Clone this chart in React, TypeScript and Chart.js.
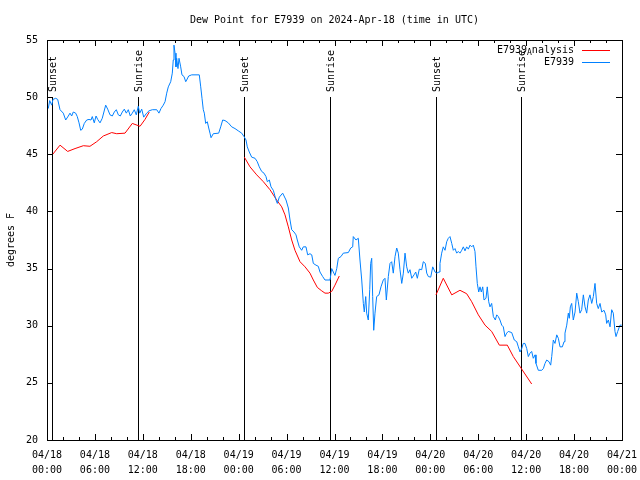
import React, { useEffect, useRef } from "react";
import { Chart, registerables } from "chart.js";

Chart.register(...registerables);

const TITLE = "Dew Point for E7939 on 2024-Apr-18 (time in UTC)";
const Y_LABEL = "degrees F";
const LEGEND_LABELS = ["E7939_Analysis", "E7939"];
const SERIES_COLORS = ["#ff0000", "#0080ff"];

const X_TICK_DATES = ["04/18", "04/18", "04/18", "04/18", "04/19", "04/19", "04/19", "04/19", "04/20", "04/20", "04/20", "04/20", "04/21"];
const X_TICK_TIMES = ["00:00", "06:00", "12:00", "18:00", "00:00", "06:00", "12:00", "18:00", "00:00", "06:00", "12:00", "18:00", "00:00"];

const EVENT_HOURS = [0.66, 11.4, 24.67, 35.4, 48.7, 59.35];
const EVENT_LABELS = ["Sunset", "Sunrise", "Sunset", "Sunrise", "Sunset", "Sunrise"];
const EVENT_LINE_TOP = 50;

const OBS_HOURS = [
  0.16, 0.34, 0.59, 0.75, 1.09, 1.34, 1.63, 2.04, 2.34, 2.67,
  2.88, 3.09, 3.29, 3.59, 3.79, 4.01, 4.22, 4.42, 4.67, 4.97,
  5.26, 5.51, 5.67, 5.92, 6.14, 6.35, 6.64, 6.92, 7.35, 7.6,
  7.89, 8.18, 8.43, 8.68, 8.93, 9.18, 9.43, 9.68, 9.93, 10.18,
  10.43, 10.68, 10.93, 11.18, 11.43, 11.61, 11.86, 12.11, 12.48, 12.77,
  13.19, 13.74, 14.02, 14.27, 14.56, 14.78, 14.99, 15.19, 15.49, 15.69,
  15.81, 15.9, 16.03, 16.15, 16.24, 16.4, 16.53, 16.74, 16.9, 17.16,
  17.37, 17.49, 17.74, 18.12, 19.07, 19.25, 19.41, 19.57, 19.7, 19.87,
  20.07, 20.25, 20.41, 20.54, 20.82, 21.5, 21.75, 22.0, 22.29, 22.7,
  23.13, 23.54, 23.95, 24.38, 24.67, 24.92, 25.08, 25.33, 25.63, 26.05,
  26.33, 26.58, 26.88, 27.17, 27.42, 27.59, 27.84, 28.05, 28.34, 28.68,
  28.84, 29.09, 29.51, 29.93, 30.22, 30.43, 30.64, 30.93, 31.18, 31.34,
  31.59, 31.89, 32.09, 32.43, 32.64, 32.93, 33.15, 33.35, 33.68, 33.97,
  34.18, 34.52, 34.81, 35.44, 35.65, 35.85, 36.06, 36.28, 36.48, 36.81,
  37.1, 37.73, 38.03, 38.28, 38.35, 38.69, 38.98, 39.19, 39.41, 39.61,
  39.73, 39.91, 40.03, 40.23, 40.41, 40.53, 40.66, 40.78, 40.91, 41.07,
  41.28, 41.57, 41.82, 42.11, 42.32, 42.49, 42.74, 42.95, 43.16, 43.36,
  43.58, 43.79, 43.99, 44.2, 44.42, 44.62, 44.83, 45.04, 45.24, 45.45,
  45.67, 45.96, 46.17, 46.37, 46.62, 46.92, 47.12, 47.37, 47.55, 47.75,
  48.05, 48.3, 48.59, 48.8, 49.09, 49.21, 49.42, 49.62, 49.84, 50.05,
  50.25, 50.46, 50.68, 50.88, 51.09, 51.3, 51.5, 51.71, 51.93, 52.13,
  52.34, 52.55, 52.76, 52.97, 53.18, 53.38, 53.59, 53.72, 53.88, 54.06,
  54.22, 54.38, 54.56, 54.72, 54.97, 55.13, 55.31, 55.47, 55.68, 55.89,
  56.14, 56.31, 56.51, 56.72, 56.94, 57.14, 57.35, 57.56, 57.76, 58.19,
  58.51, 58.82, 59.02, 59.23, 59.44, 59.64, 59.85, 60.07, 60.27, 60.48,
  60.69, 60.89, 61.11, 61.23, 61.52, 61.95, 62.15, 62.36, 62.57, 62.86,
  63.07, 63.2, 63.4, 63.61, 63.83, 64.03, 64.24, 64.53, 64.74, 64.86,
  65.08, 65.28, 65.4, 65.53, 65.7, 65.9, 66.12, 66.33, 66.53, 66.74,
  66.95, 67.16, 67.37, 67.58, 67.78, 67.99, 68.21, 68.41, 68.62, 68.83,
  69.03, 69.25, 69.46, 69.75, 69.96, 70.08, 70.29, 70.5, 70.71, 70.91,
  71.12, 71.25, 71.46, 71.75, 71.96,
];

const OBS_DEWPOINT = [
  49.0, 49.7, 49.3, 49.8, 49.9, 49.8, 48.9, 48.6, 48.0, 48.35,
  48.6, 48.35, 48.7, 48.6, 48.3, 47.75, 47.1, 47.2, 47.7, 48.0,
  48.05, 48.0, 48.3, 47.75, 48.35, 48.05, 47.75, 48.15, 49.3, 48.95,
  48.45, 48.35, 48.7, 48.9, 48.45, 48.35, 48.7, 48.95, 48.6, 48.9,
  48.35, 48.6, 48.9, 48.45, 49.2, 48.6, 48.95, 48.25, 48.6, 48.8,
  48.9, 48.9, 48.6, 49.0, 49.3, 49.6, 50.35, 50.9, 51.35, 52.1,
  53.25, 54.55, 53.85, 52.65, 53.4, 52.5, 53.4, 52.65, 51.95, 51.8,
  51.35, 51.5, 51.85, 51.95, 51.95, 50.9, 49.9, 48.9, 48.6, 47.7,
  47.85, 47.3, 46.85, 46.45, 46.8, 46.85, 47.4, 48.0, 47.95, 47.75,
  47.4, 47.25, 47.05, 46.85, 46.55, 46.25, 45.65, 45.2, 44.75, 44.65,
  44.35, 43.9, 43.5, 43.35, 43.05, 42.6, 42.75, 42.15, 41.85, 41.0,
  40.7, 41.25, 41.6, 41.0, 40.3, 39.25, 38.4, 38.2, 37.95, 37.5,
  36.9, 36.6, 36.9, 36.9, 36.2, 36.3, 36.2, 35.45, 35.3, 35.2,
  34.7, 34.3, 34.0, 34.0, 35.0, 34.7, 34.4, 35.0, 35.9, 36.05,
  36.35, 36.4, 36.8, 36.9, 37.8, 37.5, 37.65, 35.75, 34.0, 31.95,
  31.2, 32.55, 31.1, 30.5, 33.15, 35.45, 35.9, 32.55, 29.6, 31.1,
  32.55, 32.7, 33.4, 34.0, 34.15, 32.25, 34.3, 35.45, 35.6, 34.6,
  36.05, 36.8, 36.35, 34.9, 33.7, 34.6, 36.35, 35.15, 34.6, 34.9,
  34.15, 34.45, 34.7, 34.15, 34.95, 34.9, 35.6, 35.45, 34.6, 34.3,
  34.25, 35.15, 34.7, 34.6, 34.7, 35.45, 36.35, 36.9, 36.6, 37.35,
  37.65, 37.8, 37.2, 36.6, 36.75, 36.35, 36.5, 36.35, 36.6, 36.9,
  36.55, 36.9, 36.7, 37.05, 36.9, 37.05, 36.5, 35.15, 33.7, 32.95,
  33.4, 32.95, 33.4, 32.25, 32.4, 33.4, 32.1, 31.65, 31.95, 30.8,
  30.5, 30.95, 30.8, 30.5, 30.05, 29.9, 29.05, 29.35, 29.5, 29.4,
  28.75, 28.6, 28.15, 27.7, 28.0, 28.45, 28.45, 28.0, 27.3, 27.6,
  27.75, 27.15, 27.45, 26.7, 26.1, 26.1, 26.25, 26.7, 27.0, 26.85,
  26.55, 27.3, 28.75, 28.45, 29.2, 28.9, 28.15, 28.15, 28.6, 29.35,
  30.05, 31.1, 30.65, 31.65, 31.95, 30.5, 31.2, 32.85, 32.1, 31.1,
  31.4, 32.7, 31.65, 31.1, 32.25, 32.7, 31.95, 32.55, 33.7, 31.95,
  31.5, 31.95, 31.2, 31.35, 30.95, 30.2, 30.5, 29.9, 31.4, 31.1,
  29.5, 29.05, 29.5, 30.05, 30.05,
];

const ANALYSIS_HOURS_1 = [0.66, 1.63, 2.59, 3.51, 4.55, 5.38, 6.22, 7.05, 8.1, 8.73, 9.77, 10.68, 11.65, 12.27, 12.81];
const ANALYSIS_VALUES_1 = [44.95, 45.8, 45.25, 45.5, 45.75, 45.7, 46.1, 46.6, 46.9, 46.8, 46.85, 47.7, 47.45, 48.05, 48.7];
const ANALYSIS_HOURS_2 = [24.71, 25.42, 26.26, 27.09, 27.92, 28.76, 29.39, 29.8, 30.22, 30.64, 31.05, 31.68, 32.31, 32.93, 33.35, 33.85, 34.4, 34.81, 35.22, 35.65, 36.06, 36.6];
const ANALYSIS_VALUES_2 = [44.75, 43.9, 43.2, 42.6, 41.9, 41.0, 40.4, 39.7, 38.65, 37.5, 36.6, 35.6, 35.15, 34.6, 34.0, 33.35, 33.05, 32.85, 32.85, 33.0, 33.55, 34.35];
const ANALYSIS_HOURS_3 = [48.71, 49.62, 50.68, 51.71, 52.55, 53.18, 54.01, 54.85, 55.68, 56.64, 57.64, 58.39, 59.35, 60.69];
const ANALYSIS_VALUES_3 = [32.7, 34.15, 32.7, 33.1, 32.8, 32.1, 30.95, 30.05, 29.5, 28.3, 28.3, 27.3, 26.3, 24.9];

const FONT_FAMILY = "'DejaVu Sans Mono', 'Liberation Mono', monospace";
const FONT = `10px ${FONT_FAMILY}`;

function toPoints(xs: number[], ys: number[]) {
  const n = Math.min(xs.length, ys.length);
  const out: { x: number; y: number | null }[] = [];
  for (let i = 0; i < n; i++) out.push({ x: xs[i], y: ys[i] });
  return out;
}

const overlayPlugin = {
  id: "gnuplotOverlay",
  beforeDatasetsDraw(chart: any) {
    const { ctx, chartArea, scales } = chart;
    const x = scales.x;
    const y = scales.y;
    ctx.save();
    ctx.strokeStyle = "#000";
    ctx.lineWidth = 1;
    const topY = Math.round(y.getPixelForValue(EVENT_LINE_TOP));
    EVENT_HOURS.forEach((h, i) => {
      const px = Math.round(x.getPixelForValue(h)) + 0.5;
      ctx.beginPath();
      ctx.moveTo(px, topY);
      ctx.lineTo(px, chartArea.bottom);
      ctx.stroke();
      ctx.save();
      ctx.translate(px + 1, topY - 5);
      ctx.rotate(-Math.PI / 2);
      ctx.font = FONT;
      ctx.fillStyle = "#000";
      ctx.textAlign = "left";
      ctx.textBaseline = "middle";
      ctx.fillText(EVENT_LABELS[i], 0, 0);
      ctx.restore();
    });
    ctx.restore();
  },
  afterDraw(chart: any) {
    const { ctx, chartArea, scales } = chart;
    const x = scales.x;
    const y = scales.y;
    const { left, right, top, bottom } = chartArea;
    ctx.save();
    ctx.strokeStyle = "#000";
    ctx.lineWidth = 1;
    ctx.strokeRect(Math.round(left) + 0.5, Math.round(top) + 0.5, Math.round(right - left), Math.round(bottom - top));
    ctx.beginPath();
    for (let h = 0; h <= 72; h += 2) {
      const px = Math.round(x.getPixelForValue(h)) + 0.5;
      const len = h % 6 === 0 ? 6 : 3;
      ctx.moveTo(px, bottom);
      ctx.lineTo(px, bottom - len);
      ctx.moveTo(px, top);
      ctx.lineTo(px, top + len);
    }
    for (let v = 20; v <= 55; v += 5) {
      const py = Math.round(y.getPixelForValue(v)) + 0.5;
      ctx.moveTo(left, py);
      ctx.lineTo(left + 6, py);
      ctx.moveTo(right, py);
      ctx.lineTo(right - 6, py);
    }
    ctx.stroke();

    const textRight = right - 48;
    const lineX0 = right - 40;
    const lineX1 = right - 12;
    LEGEND_LABELS.forEach((label, i) => {
      const ly = top + 10 + i * 12;
      ctx.textBaseline = "middle";
      ctx.fillStyle = "#000";
      const us = label.indexOf("_");
      if (us >= 0) {
        const head = label.slice(0, us);
        const sub = label.slice(us + 1, us + 2);
        const tail = label.slice(us + 2);
        ctx.font = FONT;
        ctx.textAlign = "right";
        ctx.fillText(tail, textRight, ly);
        const wTail = ctx.measureText(tail).width;
        ctx.font = `8px ${FONT_FAMILY}`;
        const wSub = ctx.measureText(sub).width;
        ctx.fillText(sub, textRight - wTail, ly + 3);
        ctx.font = FONT;
        ctx.fillText(head, textRight - wTail - wSub, ly);
      } else {
        ctx.font = FONT;
        ctx.textAlign = "right";
        ctx.fillText(label, textRight, ly);
      }
      ctx.strokeStyle = SERIES_COLORS[i];
      ctx.beginPath();
      ctx.moveTo(lineX0, Math.round(ly) + 0.5);
      ctx.lineTo(lineX1, Math.round(ly) + 0.5);
      ctx.stroke();
    });
    ctx.restore();
  },
};

export default function App() {
  const canvasRef = useRef<HTMLCanvasElement | null>(null);

  useEffect(() => {
    const canvas = canvasRef.current;
    if (!canvas) return;

    const analysisData = [
      ...toPoints(ANALYSIS_HOURS_1, ANALYSIS_VALUES_1),
      { x: 18, y: null },
      ...toPoints(ANALYSIS_HOURS_2, ANALYSIS_VALUES_2),
      { x: 42, y: null },
      ...toPoints(ANALYSIS_HOURS_3, ANALYSIS_VALUES_3),
    ];
    const obsData = toPoints(OBS_HOURS, OBS_DEWPOINT);

    const chart = new Chart(canvas, {
      type: "line",
      data: {
        datasets: [
          {
            label: LEGEND_LABELS[1],
            data: obsData as any,
            borderColor: SERIES_COLORS[1],
            borderWidth: 1,
            pointRadius: 0,
            tension: 0,
            fill: false,
          },
          {
            label: LEGEND_LABELS[0],
            data: analysisData as any,
            borderColor: SERIES_COLORS[0],
            borderWidth: 1,
            pointRadius: 0,
            tension: 0,
            fill: false,
            spanGaps: false,
          },
        ],
      },
      options: {
        animation: false,
        responsive: false,
        maintainAspectRatio: false,
        devicePixelRatio: 1,
        layout: { padding: { left: 0, right: 18, top: 0, bottom: 0 } },
        plugins: {
          legend: { display: false },
          tooltip: { enabled: false },
          title: {
            display: true,
            text: TITLE,
            fullSize: false,
            color: "#000",
            font: { family: FONT_FAMILY, size: 10, weight: "normal", lineHeight: 1.2 },
            padding: { top: 14, bottom: 14 },
          },
        },
        scales: {
          x: {
            type: "linear",
            min: 0,
            max: 72,
            grid: { display: false, drawTicks: false },
            border: { display: false },
            afterFit: (scale: any) => {
              scale.height = 40;
              scale.paddingLeft = 0;
              scale.paddingRight = 0;
            },
            ticks: {
              stepSize: 6,
              autoSkip: false,
              maxRotation: 0,
              minRotation: 0,
              padding: 8,
              color: "#000",
              font: { family: FONT_FAMILY, size: 10, lineHeight: 1.5 },
              callback: (v: any) => {
                const i = Math.round(Number(v) / 6);
                return [X_TICK_DATES[i] ?? "", X_TICK_TIMES[i] ?? ""];
              },
            },
          },
          y: {
            type: "linear",
            min: 20,
            max: 55,
            grid: { display: false, drawTicks: false },
            border: { display: false },
            afterFit: (scale: any) => {
              scale.width = 47;
              scale.paddingTop = 0;
              scale.paddingBottom = 0;
            },
            title: {
              display: true,
              text: Y_LABEL,
              color: "#000",
              font: { family: FONT_FAMILY, size: 10, lineHeight: 1.2 },
              padding: { top: 5, bottom: 0 },
            },
            ticks: {
              stepSize: 5,
              padding: 9,
              color: "#000",
              font: { family: FONT_FAMILY, size: 10 },
            },
          },
        },
      },
      plugins: [overlayPlugin],
    });

    return () => {
      chart.destroy();
    };
  }, []);

  return (
    <div style={{ position: "fixed", left: 0, top: 0, width: 640, height: 480, background: "#fff" }}>
      <canvas ref={canvasRef} width={640} height={480} style={{ width: 640, height: 480, display: "block" }} />
    </div>
  );
}
